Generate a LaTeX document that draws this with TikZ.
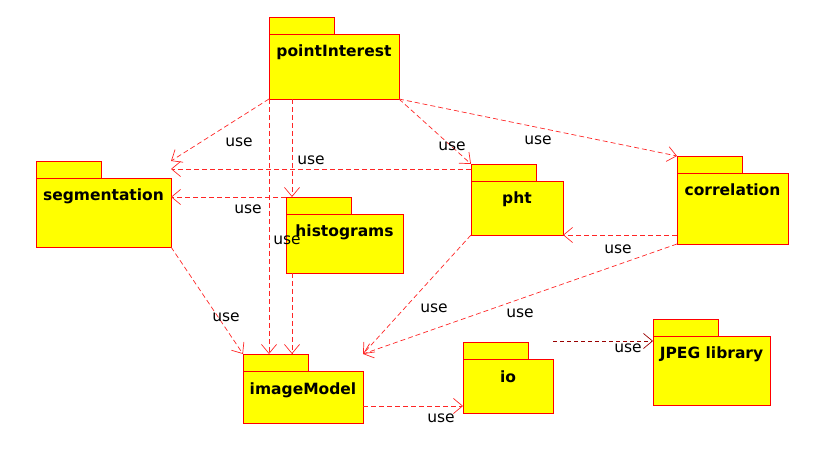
\documentclass[tikz,border=0pt]{standalone}
\usepackage{fontspec}
\setmainfont{DejaVu Sans}
\usetikzlibrary{arrows.meta,calc}
\definecolor{pkgyellow}{RGB}{255,255,0}
\definecolor{pkgred}{RGB}{255,0,0}

% package symbol: name, x, y, width, height, title
\newcommand{\umlpackage}[6]{%
  \node[pkgarea, minimum width=#4pt, minimum height=#5pt] (#1) at (#2,#3) {};
  \filldraw[pkgline] (#1.north west) rectangle ($(#1.north west)+(65,17)$);
  \filldraw[pkgline] ($(#1.north west)+(0,17)$) rectangle (#1.south east);
  \node[pkgtitle] (#1-title) at ($(#1.north)+(0,40)$) {#6};
}

\begin{document}
\begin{tikzpicture}[x=1pt,y=-1pt]
  \tikzstyle{pkgarea}=[rectangle, inner sep=0pt, outer sep=0pt, anchor=north west]
  \tikzstyle{pkgline}=[fill=pkgyellow, draw=pkgred, line width=0.8pt]
  \tikzstyle{pkgtitle}=[anchor=base, inner sep=0pt, font=\bfseries\fontsize{15.5}{17}\selectfont]
  \tikzstyle{dep}=[draw=pkgred!85, line width=0.7pt, dash pattern=on 5pt off 3pt, -{Straight Barb[length=9pt,width=15pt]}]
  \tikzstyle{uselabel}=[inner sep=0pt, font=\fontsize{15.5}{17}\selectfont]
  \useasboundingbox (0,0) rectangle (828,473);

  \umlpackage{pint}{269}{17}{130}{82}{pointInterest}
  \umlpackage{seg}{36}{161}{135}{86}{segmentation}
  \umlpackage{hist}{286}{197}{117}{76}{histograms}
  \umlpackage{pht}{471}{164}{92}{71}{pht}
  \umlpackage{corr}{677}{156}{111}{88}{correlation}
  \umlpackage{imgmod}{243}{354}{120}{69}{imageModel}
  \umlpackage{io}{463}{342}{90}{71}{io}
  \umlpackage{jpeg}{653}{319}{117}{86}{JPEG library}

  \coordinate (p1) at ($(pht.north west)+(0,5)$);
  \coordinate (h1) at ($(hist.north west)+(6,0)$);
  \coordinate (i1) at ($(imgmod.south east)+(0,-17)$);
  \coordinate (j1) at ($(io.north east)+(0,-1)$);

  \draw[dep] (pint.south west) -- (seg.north east);
  \draw[dep] (p1) -- (seg.east |- p1);
  \draw[dep] (hist.north west) -- (seg.east |- hist.north west);
  \draw[dep] (pint.south west -| h1) -- (h1);
  \draw[dep] (pint.south west) -- (imgmod.north west -| pint.south west);
  \draw[dep] (hist.south west -| h1) -- (imgmod.north west -| h1);
  \draw[dep] (pint.south east) -- (pht.north west);
  \draw[dep] (pint.south east) -- (corr.north west);
  \draw[dep] (corr.west |- pht.south east) -- (pht.south east);
  \draw[dep] (seg.south east) -- (imgmod.north west);
  \draw[dep] (pht.south west) -- (imgmod.north east);
  \draw[dep] (corr.south west) -- (imgmod.north east);
  \draw[dep] (i1) -- (io.west |- i1);
  \draw[dep, draw=pkgred!60!black, dash pattern=on 4pt off 3pt] (j1) -- (jpeg.west |- j1);

  \node[uselabel] (u1) at (239,142) {use};
  \node[uselabel] (u2) at (311,160) {use};
  \node[uselabel] (u3) at (248,209) {use};
  \node[uselabel] (u4) at (287,240) {use};
  \node[uselabel] (u5) at (452,146) {use};
  \node[uselabel] (u6) at (538,140) {use};
  \node[uselabel] (u7) at (618,249) {use};
  \node[uselabel] (u8) at (226,317) {use};
  \node[uselabel] (u9) at (434,308) {use};
  \node[uselabel] (u10) at (520,313) {use};
  \node[uselabel] (u11) at (441,418) {use};
  \node[uselabel] (u12) at (628,348) {use};
\end{tikzpicture}
\end{document}
